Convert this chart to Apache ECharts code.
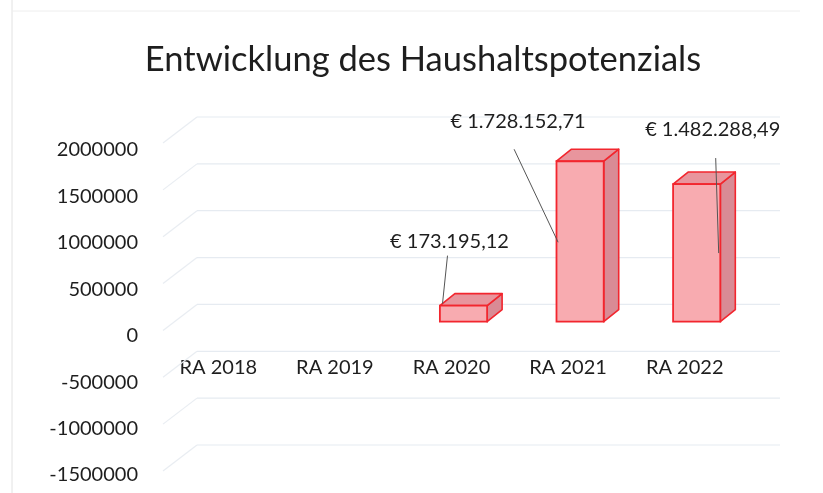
<!DOCTYPE html>
<html>
<head>
<meta charset="utf-8">
<script src="https://cdn.jsdelivr.net/npm/echarts@6/dist/echarts.min.js"></script>
<style>html,body{margin:0;padding:0;background:#fff;}#c{width:823px;height:493px;}</style>
</head>
<body>
<div id="c"></div>
<script>
const titleText = 'Entwicklung des Haushaltspotenzials';
const categories = ['RA 2018', 'RA 2019', 'RA 2020', 'RA 2021', 'RA 2022'];
const values = [null, null, 173195.12, 1728152.71, 1482288.49];
const valueTicks = [-1500000, -1000000, -500000, 0, 500000, 1000000, 1500000, 2000000];

function fmtEuro(v) {
  const fixed = v.toFixed(2);
  const parts = fixed.split('.');
  const intPart = parts[0].replace(/\B(?=(\d{3})+(?!\d))/g, '.');
  return '€ ' + intPart + ',' + parts[1];
}

// label placement (relative to bar front-top centre), per category index
const labelPlacement = {
  2: {tx: -14, ty: -64, l: [-16, -50, -21, -2]},
  3: {tx: -62, ty: -40, l: [-66, -12, -22, 81]},
  4: {tx: 16, ty: -55, l: [19, -26, 22, 69]}
};

const FONT = 'Lato, "Open Sans", sans-serif';
const chart = echarts.init(document.getElementById('c'), null, {renderer: 'canvas'});

function renderBar(params, api) {
  const idx = api.value(0);
  const v = api.value(1);
  const base = api.coord([idx, 0]);
  const top = api.coord([idx, v]);
  const bw = api.size([1, 0])[0] * 0.405;
  const sx = 12, sy = -14, dx = 15, dy = -12;
  const cx = base[0] + sx;
  const x0 = cx - bw / 2, x1 = cx + bw / 2;
  const yb = base[1] + sy, yt = top[1] + sy;
  const stroke = '#f2262e';
  const children = [
    {type: 'polygon', shape: {points: [[x1, yt], [x1 + dx, yt + dy], [x1 + dx, yb + dy], [x1, yb]]},
      style: {fill: '#d98b95', stroke: stroke, lineWidth: 1.6, lineJoin: 'round'}},
    {type: 'polygon', shape: {points: [[x0, yt], [x1, yt], [x1 + dx, yt + dy], [x0 + dx, yt + dy]]},
      style: {fill: '#e8959d', stroke: stroke, lineWidth: 1.6, lineJoin: 'round'}},
    {type: 'rect', shape: {x: x0, y: yt, width: bw, height: yb - yt},
      style: {fill: '#f8abb0', stroke: stroke, lineWidth: 1.8}}
  ];
  const p = labelPlacement[idx];
  if (p) {
    children.push({type: 'line', shape: {x1: cx + p.l[0], y1: yt + p.l[1], x2: cx + p.l[2], y2: yt + p.l[3]},
      style: {stroke: '#555', lineWidth: 1}, z2: 10});
    children.push({type: 'text', x: cx + p.tx, y: yt + p.ty,
      style: {text: fmtEuro(v), fill: '#1e1e1e', font: '20px ' + FONT, align: 'center', verticalAlign: 'middle'}, z2: 11});
  }
  return {type: 'group', children: children};
}

function renderSideWall(params, api) {
  const v = api.value(0);
  const p = api.coord([0, v]);
  const left = params.coordSys.x;
  const right = params.coordSys.x + params.coordSys.width;
  return {type: 'group', children: [
    {type: 'line', shape: {x1: left, y1: p[1], x2: left - 34, y2: p[1] + 26},
      style: {stroke: '#e9edf2', lineWidth: 1.2}},
    {type: 'line', shape: {x1: left, y1: p[1], x2: right, y2: p[1]},
      style: {stroke: '#e6ebf1', lineWidth: 1.2}}
  ]};
}

const barData = [];
values.forEach((v, i) => { if (v !== null) barData.push([i, v]); });

chart.setOption({
  animation: false,
  backgroundColor: '#ffffff',
  title: {
    text: titleText, left: 418, top: 37, textAlign: 'center',
    textStyle: {fontFamily: FONT, fontSize: 34.5, fontWeight: 'normal', color: '#1e1e1e'}
  },
  grid: [
    {left: 160, right: 80, top: 150, bottom: 18, outerBoundsMode: 'none', containLabel: false},
    {left: 197, right: 43, top: 117, bottom: 48, outerBoundsMode: 'none', containLabel: false}
  ],
  xAxis: [
    {type: 'category', gridIndex: 0, data: categories, position: 'bottom', offset: -138,
      axisLine: {show: false, onZero: false}, axisTick: {show: false},
      axisLabel: {fontFamily: FONT, fontSize: 20, color: '#1e1e1e', margin: 21}},
    {type: 'category', gridIndex: 1, data: categories, show: false}
  ],
  yAxis: [
    {type: 'value', gridIndex: 0, min: -1500000, max: 2000000, interval: 500000,
      axisLine: {show: false}, axisTick: {show: false}, splitLine: {show: false},
      axisLabel: {fontFamily: FONT, fontSize: 20, color: '#1e1e1e', margin: 22,
        formatter: function (v) { return String(v); }}},
    {type: 'value', gridIndex: 1, min: -1500000, max: 2000000, interval: 500000, show: false,
      splitLine: {show: false}}
  ],
  series: [
    {type: 'custom', xAxisIndex: 1, yAxisIndex: 1, renderItem: renderSideWall,
      data: valueTicks.map(v => [v]), encode: {y: 0}, silent: true, z: 1},
    {type: 'custom', xAxisIndex: 0, yAxisIndex: 0, renderItem: renderBar,
      data: barData, encode: {x: 0, y: 1}, z: 5, clip: false}
  ],
  graphic: [
    {type: 'line', shape: {x1: 12, y1: 0, x2: 12, y2: 493}, style: {stroke: '#e2e2e2', lineWidth: 1}},
    {type: 'line', shape: {x1: 12, y1: 11, x2: 800, y2: 11}, style: {stroke: '#eeeeee', lineWidth: 1}}
  ]
});
</script>
</body>
</html>
